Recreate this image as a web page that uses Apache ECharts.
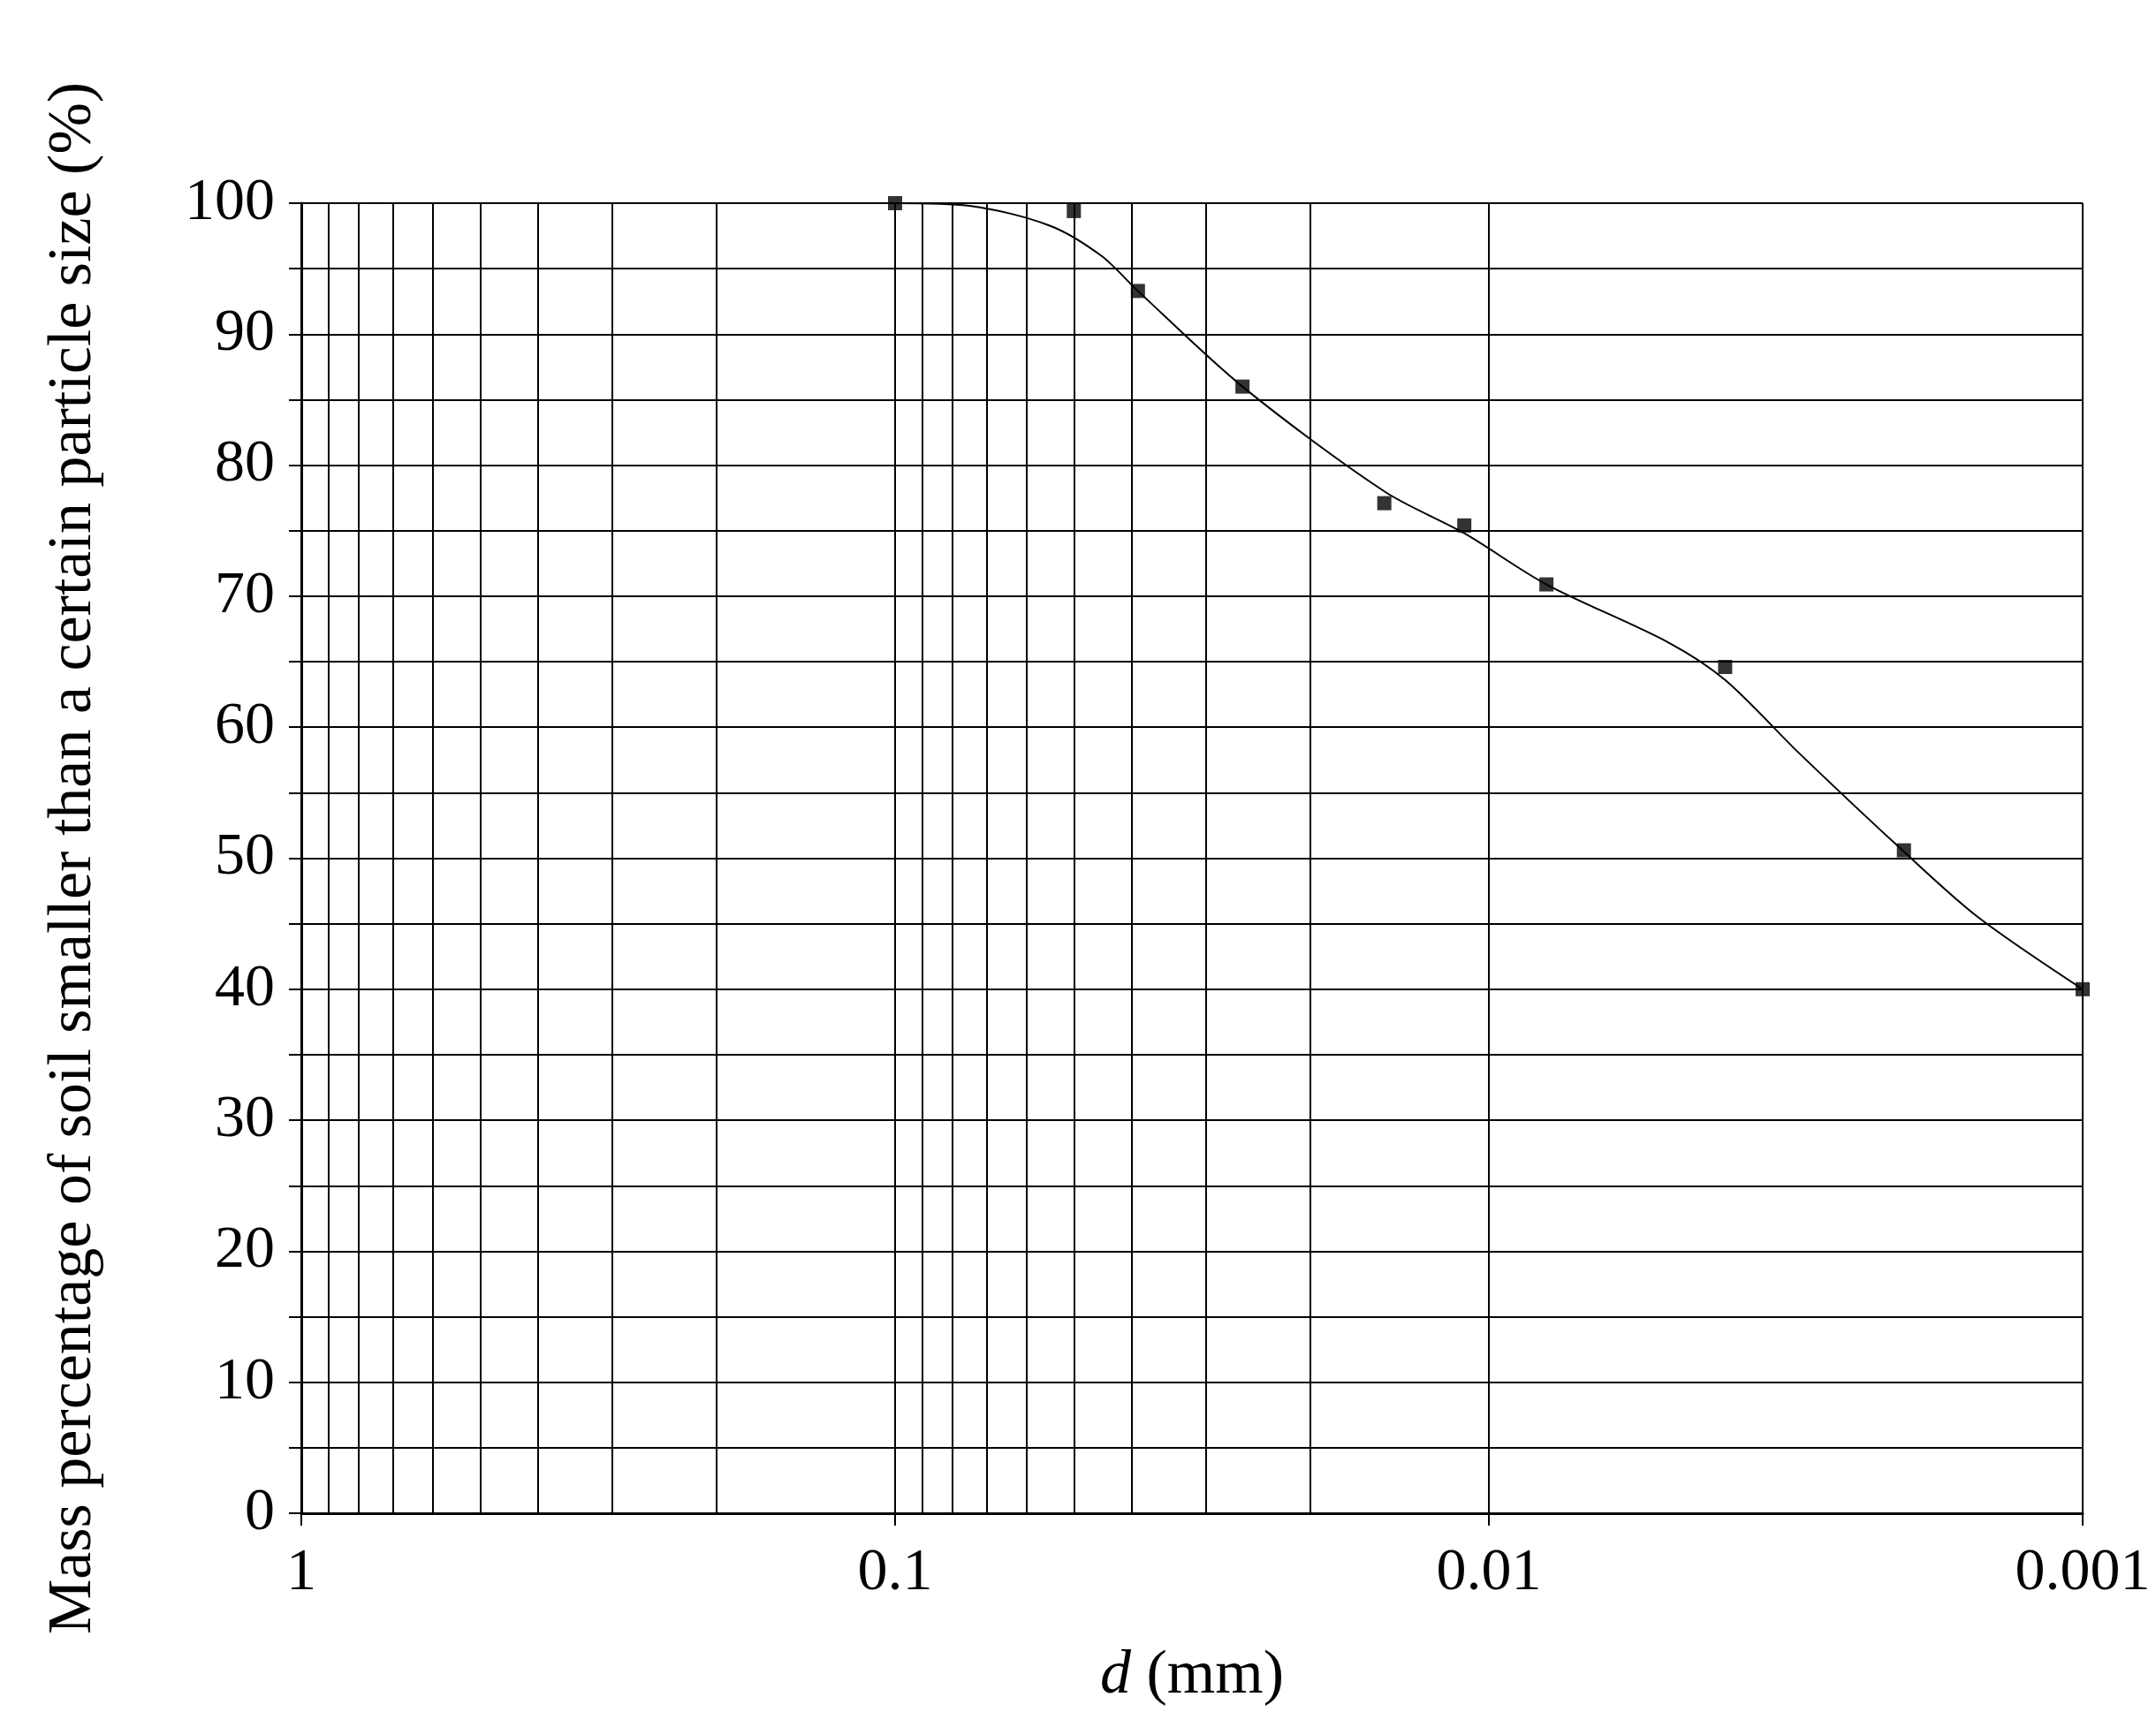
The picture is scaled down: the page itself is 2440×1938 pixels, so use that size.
<!DOCTYPE html>
<html><head><meta charset="utf-8">
<script src="https://cdn.jsdelivr.net/npm/echarts@6/dist/echarts.min.js"></script>
<style>html,body{margin:0;background:#fff}#c{width:2440px;height:1938px}</style>
</head><body><div id="c"></div>
<script>
const diameters = [0.1, 0.05, 0.039, 0.026, 0.015, 0.011, 0.008, 0.004, 0.002, 0.001];
const percents = [100, 99.4, 93.3, 86.0, 77.1, 75.4, 70.9, 64.6, 50.6, 40.0];
const curveD = [0.1, 0.075, 0.055, 0.045, 0.039, 0.026, 0.015, 0.011, 0.008, 0.005, 0.004, 0.003, 0.002, 0.0015, 0.001];
const curveP = [100, 99.8, 98.3, 96.0, 93.3, 86.0, 78.0, 74.8, 70.9, 66.5, 63.6, 58.0, 50.5, 45.5, 40.0];
const gridD = [];
[1, 0.1, 0.01].forEach(b => { for (let k = 1; k <= 9; k++) gridD.push(+(b * k / 10).toPrecision(3)); });
const xTicks = [1, 0.1, 0.01, 0.001];

const F = 'Liberation Serif';
const chart = echarts.init(document.getElementById('c'));
chart.setOption({
  animation: false,
  grid: {left: 341, right: 83, top: 230, bottom: 221},
  xAxis: {
    type: 'log', logBase: 10, min: 0.001, max: 1, inverse: true,
    name: '{i|d} (mm)', nameLocation: 'middle', nameGap: 150,
    nameTextStyle: {fontFamily: F, fontSize: 70, color: '#000', rich: {i: {fontFamily: F, fontSize: 70, fontStyle: 'italic', color: '#000'}}},
    axisLine: {lineStyle: {color: '#000', width: 3}},
    axisTick: {length: 14, lineStyle: {color: '#000', width: 2}},
    axisLabel: {fontFamily: F, fontSize: 68, color: '#000', margin: 34,
      formatter: v => String(+(+v).toPrecision(2))},
    splitLine: {show: true, lineStyle: {color: '#000', width: 2}}
  },
  yAxis: {
    type: 'value', min: 0, max: 100, interval: 10,
    name: 'Mass percentage of soil smaller than a certain particle size (%)',
    nameLocation: 'middle', nameGap: 222,
    nameTextStyle: {fontFamily: F, fontSize: 70, color: '#000'},
    axisLine: {show: true, lineStyle: {color: '#000', width: 3}},
    axisTick: {length: 14, lineStyle: {color: '#000', width: 2}},
    minorTick: {show: true, splitNumber: 2, length: 14, lineStyle: {color: '#000', width: 2}},
    axisLabel: {fontFamily: F, fontSize: 68, color: '#000', margin: 30},
    splitLine: {show: true, lineStyle: {color: '#000', width: 2}},
    minorSplitLine: {show: true, lineStyle: {color: '#000', width: 2}}
  },
  series: [
    {type: 'line', data: curveD.map((d, i) => [d, curveP[i]]), smooth: 0.3, showSymbol: false,
     lineStyle: {color: '#000', width: 2},
     markLine: {silent: true, symbol: 'none', label: {show: false},
       lineStyle: {color: '#000', width: 2, type: 'solid'},
       data: gridD.map(d => ({xAxis: d}))}},
    {type: 'scatter', data: diameters.map((d, i) => [d, percents[i]]), symbol: 'rect', symbolSize: 16,
     itemStyle: {color: '#000'}, z: 5}
  ]
});
</script></body></html>
